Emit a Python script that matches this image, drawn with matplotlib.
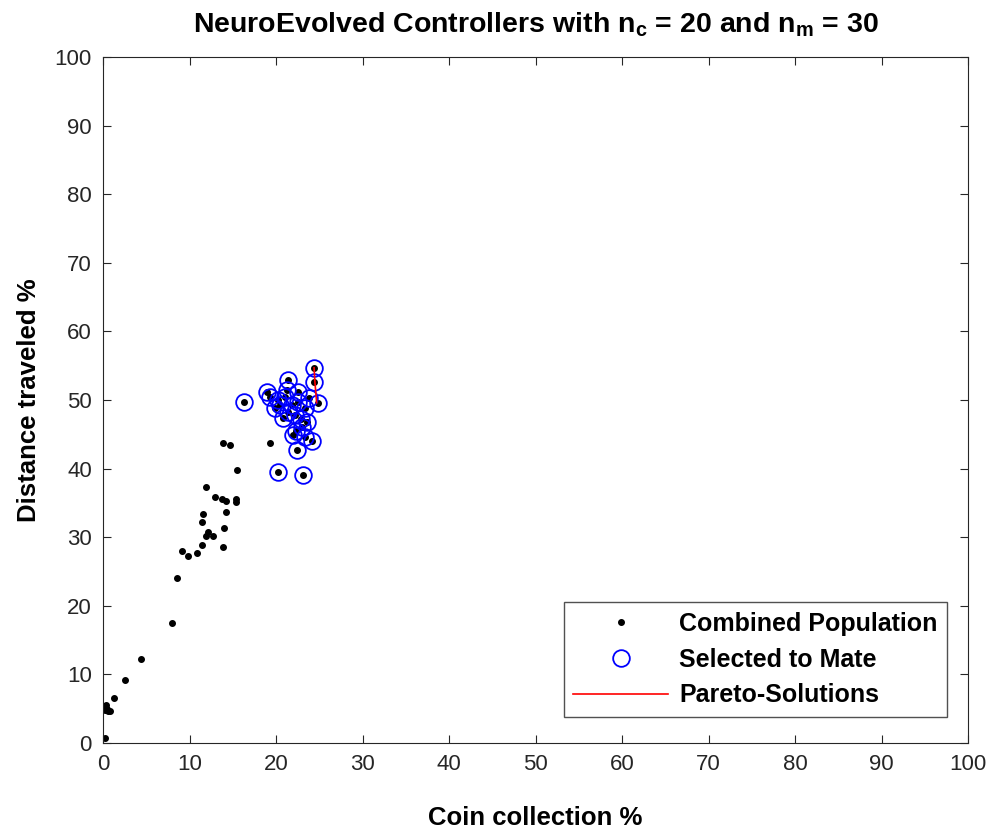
import matplotlib.pyplot as plt
import numpy as np

plt.rcParams['font.family'] = 'Liberation Sans'
plt.rcParams['mathtext.fontset'] = 'custom'
plt.rcParams['mathtext.rm'] = 'Liberation Sans:bold'

# selected to mate (also part of combined population)
sel_x = [24.4, 24.4, 24.9, 16.3, 21.4, 19.3, 21.3, 22.5, 20.2, 21.4, 23.4, 22.5, 23.6, 22.2, 22.0,
         23.4, 24.2, 22.4, 19.9, 20.8, 23.0, 20.2, 23.1, 19.0, 21.0, 21.8, 22.3, 23.8, 20.5, 22.9]
sel_y = [54.7, 52.6, 49.6, 49.7, 52.9, 50.4, 51.5, 51.2, 50.0, 48.3, 48.8, 49.7, 46.8, 47.8, 44.9,
         44.6, 44.0, 42.7, 48.8, 47.4, 46.1, 39.5, 39.1, 51.1, 50.5, 49.2, 45.5, 50.3, 49.3, 47.3]

# remaining population
rest_x = [19.3, 15.5, 14.7, 13.9, 11.9, 12.9, 13.7, 14.2, 15.4, 15.4, 14.2, 11.6, 11.4, 14.0, 12.1,
          11.9, 12.7, 11.4, 13.9, 9.1, 9.8, 10.9, 8.6, 8.0, 4.4, 2.5, 1.3, 0.3, 0.5, 0.6, 0.2, 0.8, 0.2]
rest_y = [43.7, 39.8, 43.4, 43.7, 37.3, 35.9, 35.6, 35.3, 35.6, 35.1, 33.7, 33.4, 32.2, 31.3, 30.8,
          30.2, 30.2, 28.9, 28.6, 28.0, 27.3, 27.7, 24.0, 17.5, 12.2, 9.2, 6.6, 5.5, 5.0, 4.6, 4.8, 4.7, 0.7]

pareto_x = [24.4, 24.5, 24.7]
pareto_y = [54.7, 52.6, 49.6]

all_x = rest_x + sel_x
all_y = rest_y + sel_y

fig = plt.figure(figsize=(10, 8.32), dpi=100)
ax = fig.add_axes([0.103, 0.107, 0.865, 0.8245])

ax.plot(all_x, all_y, '.', color='black', markersize=8, label='Combined Population')
ax.plot(sel_x, sel_y, 'o', mfc='none', mec='blue', markersize=12, mew=1.3, label='Selected to Mate')
ax.plot(pareto_x, pareto_y, '-', color='red', lw=1.2, label='Pareto-Solutions')

ax.set_xlim(0, 100)
ax.set_ylim(0, 100)
ax.set_xticks(np.arange(0, 101, 10))
ax.set_yticks(np.arange(0, 101, 10))
ax.tick_params(direction='in', top=True, right=True, labelsize=16, length=6,
               color='0.15', labelcolor='0.15', pad=8)
for s in ax.spines.values():
    s.set_color('0.15')

ax.set_xlabel('Coin collection %', fontsize=18.5, fontweight='bold', labelpad=22)
ax.set_ylabel('Distance traveled %', fontsize=18.5, fontweight='bold', labelpad=10)
ax.set_title(r'NeuroEvolved Controllers with n$_{\mathrm{c}}$ = 20 and n$_{\mathrm{m}}$ = 30',
             fontsize=20.5, fontweight='bold', pad=18)

leg = ax.legend(loc='lower right', bbox_to_anchor=(0.976, 0.038), borderaxespad=0,
                fancybox=False, edgecolor='0.15',
                prop={'weight': 'bold', 'size': 18}, handlelength=3.8,
                labelspacing=0.47, borderpad=0.38, handletextpad=0.45)
leg.get_frame().set_linewidth(1.0)

fig.savefig('out.png')
